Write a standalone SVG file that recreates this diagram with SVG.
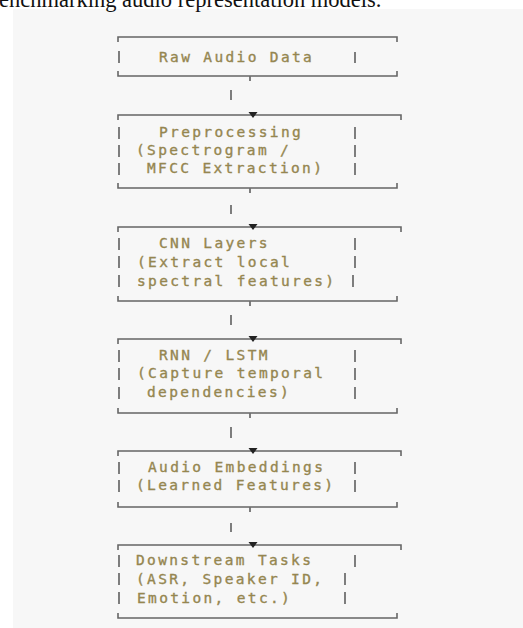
<svg xmlns="http://www.w3.org/2000/svg" width="523" height="628" viewBox="0 0 523 628">
<style>
.t{font-family:"DejaVu Sans Mono","Liberation Mono",monospace;font-size:14.5px;letter-spacing:2.35px;fill:#958650;stroke:#958650;stroke-width:0.35}
.ln{stroke:#666;stroke-width:1.6;fill:none}
.bar{stroke:#707070;stroke-width:1.8;fill:none}
.cap{font-family:"Liberation Serif",serif;font-size:22.5px;fill:#111}
</style>
<defs>
<path id="arr" d="M-4.5,-3 L4.5,-3 L0,3 Z" fill="#222"/>
</defs>
<rect width="523" height="628" fill="#fff"/>
<rect x="13" y="9" width="510" height="619" fill="#f7f7f7"/>
<text class="cap" x="-1" y="7">enchmarking audio representation models.</text>

<g id="n1">
<path class="ln" d="M118,42 V37 H397 V42 M118,71 V76 H397 V71"/>
<path class="bar" d="M119,51 V63 M355,52 V63"/>
<text class="t" x="159" y="62">Raw Audio Data</text>
</g>
<g id="n2">
<path class="ln" d="M118,120 V115 H401 V120 M118,183 V188 H397 V183"/>
<path class="bar" d="M119,127 V139 M119,145 V157 M119,163 V175 M355,127 V139 M355,145 V157 M355,163 V175"/>
<text class="t" x="159" y="137">Preprocessing</text>
<text class="t" x="136" y="155">(Spectrogram /</text>
<text class="t" x="147" y="173">MFCC Extraction)</text>
</g>
<g id="n3">
<path class="ln" d="M118,232 V227 H401 V232 M118,296 V301 H397 V296"/>
<path class="bar" d="M119,238 V250 M119,256 V268 M119,275 V287 M355,238 V250 M355,256 V268 M353,275 V287"/>
<text class="t" x="159" y="248">CNN Layers</text>
<text class="t" x="137" y="267">(Extract local</text>
<text class="t" x="137" y="286">spectral features)</text>
</g>
<g id="n4">
<path class="ln" d="M118,344 V339 H401 V344 M118,408 V413 H397 V408"/>
<path class="bar" d="M119,350 V362 M119,368 V380 M119,387 V399 M355,350 V362 M355,368 V380 M355,387 V399"/>
<text class="t" x="159" y="360">RNN / LSTM</text>
<text class="t" x="137" y="378">(Capture temporal</text>
<text class="t" x="147" y="397">dependencies)</text>
</g>
<g id="n5">
<path class="ln" d="M118,456 V451 H401 V456 M118,502 V507 H397 V502"/>
<path class="bar" d="M119,462 V474 M119,480 V492 M355,462 V474 M355,480 V492"/>
<text class="t" x="148" y="472">Audio Embeddings</text>
<text class="t" x="136" y="490">(Learned Features)</text>
</g>
<g id="n6">
<path class="ln" d="M118,550 V545 H401 V550 M118,613 V618 H397 V613"/>
<path class="bar" d="M119,555 V567 M119,573 V585 M119,592 V604 M355,555 V567 M345,573 V585 M345,592 V604"/>
<text class="t" x="136" y="565">Downstream Tasks</text>
<text class="t" x="136" y="584">(ASR, Speaker ID,</text>
<text class="t" x="137" y="603">Emotion, etc.)</text>
</g>

<g id="connectors">
<path class="bar" d="M250,76 V81 M231,90 V100 M250,188 V193 M231,205 V214 M250,301 V306 M231,315 V325 M250,413 V418 M231,427 V438 M250,507 V512 M231,523 V532"/>
<use href="#arr" x="253" y="115"/>
<use href="#arr" x="253" y="227"/>
<use href="#arr" x="253" y="339"/>
<use href="#arr" x="253" y="451"/>
<use href="#arr" x="253" y="545"/>
</g>
</svg>
